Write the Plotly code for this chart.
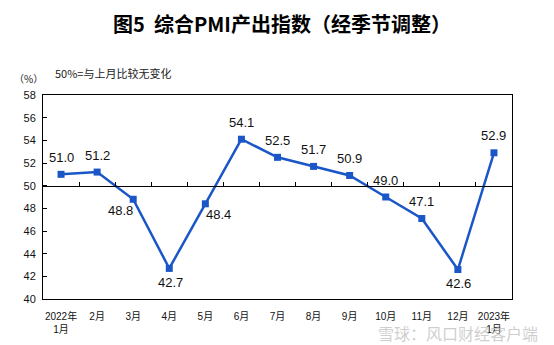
import plotly.graph_objects as go

months = ["2022年<br>1月", "2月", "3月", "4月", "5月", "6月", "7月", "8月", "9月",
          "10月", "11月", "12月", "2023年<br>1月"]
values = [51.0, 51.2, 48.8, 42.7, 48.4, 54.1, 52.5, 51.7, 50.9, 49.0, 47.1, 42.6, 52.9]
label_pos = ["up", "up", "down-left", "down", "down-right", "up", "up", "up", "up",
             "up", "up", "down", "up"]
y_ticks = [40, 42, 44, 46, 48, 50, 52, 54, 56, 58]

x_idx = list(range(len(months)))
offsets = {"up": (0, 17), "down": (1, -14), "down-left": (-13, -11), "down-right": (13, -11)}

LINE = "#1A56C8"
NUM_FONT = "Liberation Sans, Arial, Noto Sans CJK SC, sans-serif"
CJK_FONT = "Noto Sans CJK SC, sans-serif"

fig = go.Figure()
fig.add_trace(go.Scatter(
    x=x_idx, y=values, mode="lines+markers",
    line=dict(color=LINE, width=2.5),
    marker=dict(symbol="square", size=7, color=LINE),
    hoverinfo="skip", showlegend=False, cliponaxis=False,
))
# invisible trace on overlay axis carrying the 50% reference line
fig.add_trace(go.Scatter(x=[-0.5, 12.5], y=[50, 50], xaxis="x2", mode="lines",
                         line=dict(color="rgba(0,0,0,0)"), hoverinfo="skip", showlegend=False))

annotations = []
for xi, v, p in zip(x_idx, values, label_pos):
    dx, dy = offsets[p]
    annotations.append(dict(x=xi, y=v, text=f"{v:.1f}", showarrow=False,
                            xshift=dx, yshift=dy,
                            font=dict(family=NUM_FONT, size=13, color="#111111")))

annotations += [
    dict(xref="paper", yref="paper", x=0.5, y=1, xanchor="center", yanchor="middle",
         text="<b>图5  综合PMI产出指数（经季节调整）</b>", showarrow=False,
         font=dict(family=CJK_FONT, size=20, color="#000000"),
         yshift=72, xshift=4),
    dict(xref="paper", yref="paper", x=0, y=1, xanchor="center", yanchor="middle",
         text="（%）", showarrow=False, font=dict(family=CJK_FONT, size=10, color="#222222"),
         xshift=-15, yshift=17),
    dict(xref="paper", yref="paper", x=0, y=1, xanchor="left", yanchor="middle",
         text="50%=与上月比较无变化", showarrow=False,
         font=dict(family=CJK_FONT, size=11, color="#222222"),
         xshift=10, yshift=22),
    dict(xref="paper", yref="paper", x=1, y=0, xanchor="right", yanchor="middle",
         text="雪球：风口财经客户端", showarrow=False,
         font=dict(family=CJK_FONT, size=16, color="rgba(190,190,190,0.75)"),
         xshift=28, yshift=-34),
]

fig.update_layout(
    width=554, height=345,
    margin=dict(l=43, r=42, t=95, b=46),
    paper_bgcolor="white", plot_bgcolor="white",
    showlegend=False,
    annotations=annotations,
    xaxis=dict(
        range=[-0.5, 12.5], tickmode="array", tickvals=x_idx, ticktext=months,
        showgrid=False, zeroline=False, ticks="",
        showline=True, linecolor="black", linewidth=1, mirror=True,
        tickfont=dict(family=NUM_FONT, size=10, color="#111111"),
        ticklabelstandoff=8, automargin=False,
    ),
    xaxis2=dict(
        overlaying="x", anchor="free", position=(50 - 40) / (58 - 40),
        range=[-0.5, 12.5], tickmode="array",
        tickvals=[i + 0.5 for i in x_idx[:-1]],
        ticks="inside", ticklen=4, tickcolor="black", tickwidth=1,
        showticklabels=False, showgrid=False, zeroline=False,
        showline=True, linecolor="black", linewidth=1,
    ),
    yaxis=dict(
        range=[40, 58], tickmode="array", tickvals=y_ticks,
        showgrid=False, zeroline=False,
        ticks="inside", ticklen=4, tickcolor="black",
        showline=True, linecolor="black", linewidth=1, mirror=True,
        tickfont=dict(family=NUM_FONT, size=11, color="#111111"),
        ticklabelstandoff=4, automargin=False,
    ),
)

fig.write_html("out.html")
